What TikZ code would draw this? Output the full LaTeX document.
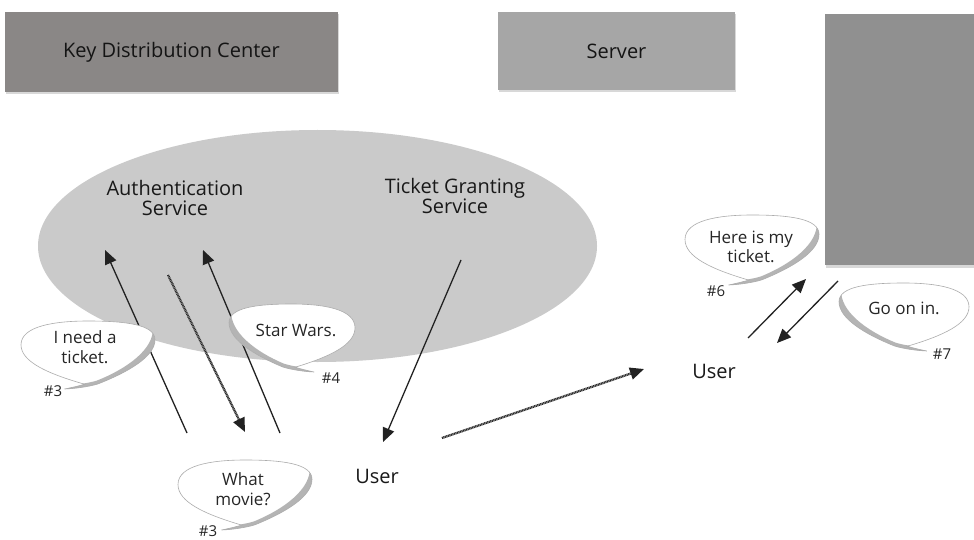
\documentclass[tikz,border=0pt]{standalone}
\usepackage{fontspec}
\setmainfont{Open Sans}
\usetikzlibrary{arrows.meta,shadows,shapes.geometric}
\definecolor{kdcgray}{HTML}{8A8786}
\definecolor{servergray}{HTML}{A6A6A6}
\definecolor{rightgray}{HTML}{909090}
\definecolor{ellgray}{HTML}{CACACA}
\definecolor{inkcol}{HTML}{222222}
\definecolor{bubshade}{HTML}{B4B4B4}
\def\bpath{(-0.05,0.86) .. controls (-0.6,0.55) and (-1,0.2) .. (-1,-0.3) .. controls (-1,-0.85) and (-0.5,-1) .. (0,-1) .. controls (0.55,-1) and (1,-0.9) .. (1,-0.45) .. controls (1,0.05) and (0.6,0.5) .. (0.15,0.85) .. controls (0.02,0.93) and (-0.2,0.99) .. (-0.35,1) .. controls (-0.22,0.95) and (-0.12,0.9) .. (-0.05,0.86) -- cycle}
\tikzset{
  box/.style={draw=none, minimum width=#1, font=\fontsize{20}{22}\selectfont, text=black!92,
     drop shadow={shadow xshift=1pt, shadow yshift=-2.5pt, opacity=0.3}},
  svc/.style={align=center, font=\fontsize{20}{19.5}\selectfont, text=black!90},
  btext/.style={align=center, font=\fontsize{17}{19.5}\selectfont, text=black!85},
  tag/.style={font=\fontsize{15}{16}\selectfont, text=black!85},
  usr/.style={font=\fontsize{20}{22}\selectfont, text=black!90},
  arr/.style={draw=inkcol, line width=1.3pt, -{Triangle[length=14pt,width=12pt]}},
  hatch/.style={draw=inkcol, line width=2.2pt, dash pattern=on 0.8pt off 0.8pt, -{Triangle[length=14pt,width=12pt]}},
  hatchbase/.style={draw=gray!70, line width=2.2pt, shorten >=6pt},
  bubble/.pic={
    \fill[white] \bpath;
    \begin{scope}
      \clip \bpath;
      \draw[bubshade, line width=7pt, line cap=round] (1.02,-0.8) .. controls (1.04,-0.1) and (0.6,0.5) .. (0.15,0.85) .. controls (0.02,0.93) and (-0.2,0.99) .. (-0.35,1);
    \end{scope}
    \draw[gray!65, line width=0.6pt] \bpath;
  }
}
\begin{document}
\begin{tikzpicture}[x=1pt,y=-1pt]
\useasboundingbox (0,0) rectangle (974,540);
\fill[white] (0,0) rectangle (974,540);

% boxes
\node[box=333pt, minimum height=80pt, fill=kdcgray] (kdc) at (171.5,52) {Key Distribution Center};
\node[box=237pt, minimum height=78pt, fill=servergray] (server) at (616.5,51) {Server};
\node[box=150pt, minimum height=251pt, fill=rightgray] (client) at (900,139.5) {};

% ellipse
\node[ellipse, fill=ellgray, minimum width=559pt, minimum height=232pt, inner sep=0pt] (ell) at (317.5,246) {};
\node[svc] (as) at (175,198) {Authentication\\Service};
\node[svc] (tgs) at (455,196) {Ticket Granting\\Service};

% users
\node[usr] (user1) at (377,476) {User};
\node[usr] (user2) at (714,371) {User};

% arrow end coordinates
\coordinate (a1s) at (187,433); \coordinate (a1e) at (105,250);
\coordinate (a2s) at (168,275); \coordinate (a2e) at (245,432);
\coordinate (a3s) at (280,433); \coordinate (a3e) at (203,250);
\coordinate (a4s) at (461,260); \coordinate (a4e) at (383,442);
\coordinate (a5s) at (442,438); \coordinate (a5e) at (644,369);
\coordinate (a6s) at (748,338); \coordinate (a6e) at (806,279);
\coordinate (a7s) at (838,281); \coordinate (a7e) at (777,343);

\draw[arr] (a1s) -- (a1e);
\draw[hatchbase] (a2s) -- (a2e);
\draw[hatch] (a2s) -- (a2e);
\draw[arr] (a3s) -- (a3e);
\draw[arr] (a4s) -- (a4e);
\draw[hatchbase] (a5s) -- (a5e);
\draw[hatch] (a5s) -- (a5e);
\draw[arr] (a6s) -- (a6e);
\draw[arr] (a7s) -- (a7e);

% bubbles
\pic[xscale=67, yscale=34] at (88,355) {bubble};
\node[btext] (b1) at (85,347) {I need a\\ticket.};
\node[tag] (t1) at (53,391) {\#3};

\pic[xscale=-63, yscale=34] at (292,338) {bubble};
\node[btext] (b2) at (296,330) {Star Wars.};
\node[tag] (t2) at (331,378) {\#4};

\pic[xscale=67, yscale=35] at (245,495) {bubble};
\node[btext] (b3) at (243,489) {What\\movie?};
\node[tag] (t3) at (208,531) {\#3};

\pic[xscale=67, yscale=35] at (752,250) {bubble};
\node[btext] (b4) at (751,247) {Here is my\\ticket.};
\node[tag] (t4) at (716,291) {\#6};

\pic[xscale=-65, yscale=34] at (904,317) {bubble};
\node[btext] (b5) at (904,308) {Go on in.};
\node[tag] (t5) at (942,354) {\#7};
\end{tikzpicture}
\end{document}
